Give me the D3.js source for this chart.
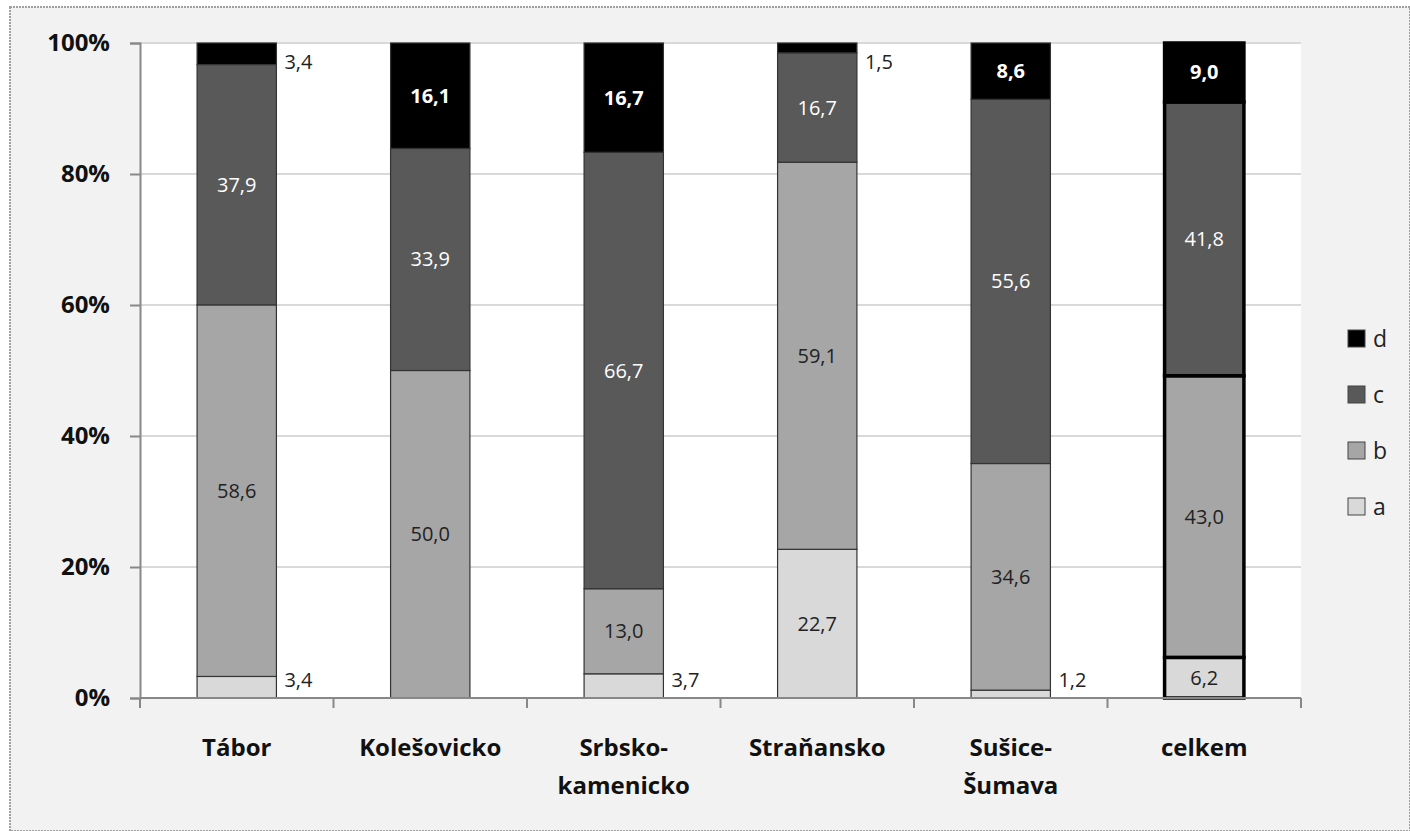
<!DOCTYPE html>
<html>
<head>
<meta charset="utf-8">
<script src="https://cdn.jsdelivr.net/npm/d3@7"></script>
<style>
  body { margin: 0; background: #fff; }
  text { font-family: "Open Sans", "DejaVu Sans", sans-serif; }
</style>
</head>
<body>
<div id="chart"></div>
<script>
var svgWidth = 1410;
var svgHeight = 831;

var margin = { top: 43, right: 109, bottom: 133, left: 140 };
var width = svgWidth - margin.left - margin.right;
var height = svgHeight - margin.top - margin.bottom;

// data
var categories = ["Tábor", "Kolešovicko", "Srbsko-\nkamenicko", "Straňansko", "Sušice-\nŠumava", "celkem"];
var seriesKeys = ["a", "b", "c", "d"];
var valuesA = [3.4, 0, 3.7, 22.7, 1.2, 6.2];
var valuesB = [58.6, 50.0, 13.0, 59.1, 34.6, 43.0];
var valuesC = [37.9, 33.9, 66.7, 16.7, 55.6, 41.8];
var valuesD = [3.4, 16.1, 16.7, 1.5, 8.6, 9.0];
var yTicks = [0, 0.2, 0.4, 0.6, 0.8, 1];

var colors = { a: "#d9d9d9", b: "#a6a6a6", c: "#595959", d: "#000000" };
var labelColors = { a: "#222", b: "#222", c: "#fff", d: "#fff" };

var rows = categories.map(function(c, i) {
  return { cat: c, a: valuesA[i], b: valuesB[i], c: valuesC[i], d: valuesD[i] };
});

var cz = d3.formatLocale({ decimal: ",", thousands: " ", grouping: [3], currency: ["", " Kč"] });
var fmt = cz.format(".1f");

var svg = d3.select("#chart")
  .append("svg")
  .attr("width", svgWidth)
  .attr("height", svgHeight);

// outer chart frame
svg.append("rect")
  .attr("x", 10).attr("y", 7)
  .attr("width", svgWidth - 10).attr("height", svgHeight - 7)
  .attr("fill", "#f2f2f2")
  .attr("stroke", "#a0a0a0")
  .attr("stroke-width", 2)
  .attr("stroke-dasharray", "2,1");

var chartGroup = svg.append("g")
  .attr("transform", `translate(${margin.left}, ${margin.top})`);

chartGroup.append("rect")
  .attr("width", width).attr("height", height)
  .attr("fill", "#fff");

var xScale = d3.scaleBand()
  .domain(categories)
  .range([0, width])
  .paddingInner(0.59)
  .paddingOuter(0.295);

var yScale = d3.scaleLinear()
  .domain([0, 1])
  .range([height, 0]);

// gridlines
chartGroup.append("g")
  .selectAll("line")
  .data(yTicks.slice(1))
  .enter()
  .append("line")
  .attr("x1", 0).attr("x2", width)
  .attr("y1", d => yScale(d)).attr("y2", d => yScale(d))
  .attr("stroke", "#d9d9d9")
  .attr("stroke-width", 2);

var stack = d3.stack().keys(seriesKeys).offset(d3.stackOffsetExpand);
var stacked = stack(rows);

var layers = chartGroup.selectAll(".layer")
  .data(stacked)
  .enter()
  .append("g")
  .attr("class", "layer");

layers.selectAll("rect")
  .data(d => d.map(function(p) { p.key = d.key; return p; }))
  .enter()
  .filter(d => d[1] - d[0] > 0)
  .append("rect")
  .attr("x", d => xScale(d.data.cat))
  .attr("y", d => yScale(d[1]))
  .attr("width", xScale.bandwidth())
  .attr("height", d => yScale(d[0]) - yScale(d[1]))
  .attr("fill", d => colors[d.key])
  .attr("stroke", d => d.data.cat == "celkem" ? "#000" : "#333")
  .attr("stroke-width", d => d.data.cat == "celkem" ? 3.5 : 1.2);

// data labels
layers.selectAll("text")
  .data(d => d)
  .enter()
  .filter(d => d.data[d.key] > 0)
  .append("text")
  .each(function(d) {
    var v = d.data[d.key];
    var mid = (yScale(d[0]) + yScale(d[1])) / 2;
    var outside = (yScale(d[0]) - yScale(d[1])) < 30;
    var sel = d3.select(this);
    if (outside) {
      sel.attr("x", xScale(d.data.cat) + xScale.bandwidth() + 8)
        .attr("y", Math.max(19, Math.min(height - 18, mid)))
        .attr("text-anchor", "start")
        .attr("fill", "#222");
    } else {
      sel.attr("x", xScale(d.data.cat) + xScale.bandwidth() / 2)
        .attr("y", mid)
        .attr("text-anchor", "middle")
        .attr("fill", labelColors[d.key]);
    }
    sel.attr("dy", "0.35em")
      .attr("font-size", 20)
      .attr("font-weight", d.key == "d" && !outside ? "bold" : "normal")
      .text(fmt(v));
  });

// axes
var leftAxis = d3.axisLeft(yScale)
  .tickValues(yTicks)
  .tickSize(10)
  .tickFormat(d3.format(".0%"));

var yAxisG = chartGroup.append("g").call(leftAxis);
yAxisG.select(".domain").attr("stroke", "#888").attr("stroke-width", 2);
yAxisG.selectAll(".tick line").attr("stroke", "#888").attr("stroke-width", 2);
yAxisG.selectAll(".tick text")
  .attr("x", -30)
  .attr("font-size", 24)
  .attr("font-weight", "bold")
  .attr("fill", "#111")
  .style("font-family", "'Open Sans', sans-serif");

var xAxisG = chartGroup.append("g")
  .attr("transform", `translate(0, ${height})`);
xAxisG.append("line")
  .attr("x1", 0).attr("x2", width)
  .attr("stroke", "#888").attr("stroke-width", 2);
xAxisG.selectAll(".xtick")
  .data(d3.range(categories.length + 1))
  .enter()
  .append("line")
  .attr("x1", i => i * xScale.step()).attr("x2", i => i * xScale.step())
  .attr("y1", 0).attr("y2", 10)
  .attr("stroke", "#888").attr("stroke-width", 2);

var catLabels = xAxisG.selectAll(".cat")
  .data(categories)
  .enter()
  .append("text")
  .attr("x", d => xScale(d) + xScale.bandwidth() / 2)
  .attr("y", 58)
  .attr("text-anchor", "middle")
  .attr("font-size", 24)
  .attr("font-weight", "bold")
  .attr("fill", "#111");

catLabels.selectAll("tspan")
  .data(d => d.split("\n"))
  .enter()
  .append("tspan")
  .attr("x", function() { return d3.select(this.parentNode).attr("x"); })
  .attr("dy", (d, i) => i == 0 ? 0 : 38)
  .text(d => d);

// legend
var legend = svg.append("g")
  .attr("transform", "translate(1348, 330)");

var legendItems = legend.selectAll("g")
  .data(seriesKeys.slice().reverse())
  .enter()
  .append("g")
  .attr("transform", (d, i) => `translate(0, ${i * 56})`);

legendItems.append("rect")
  .attr("width", 17).attr("height", 17)
  .attr("fill", d => colors[d])
  .attr("stroke", "#444")
  .attr("stroke-width", 1);

legendItems.append("text")
  .attr("x", 25).attr("y", 9)
  .attr("dy", "0.35em")
  .attr("font-size", 23)
  .attr("fill", "#222")
  .text(d => d);
</script>
</body>
</html>
